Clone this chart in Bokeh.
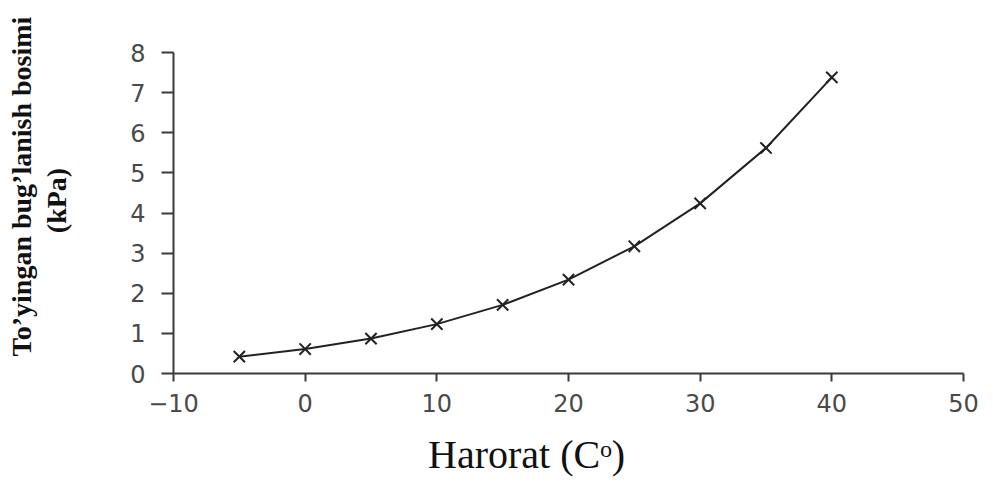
import math
from bokeh.plotting import figure
from bokeh.layouts import row, column
from bokeh.models import Range1d, FixedTicker
from bokeh.core.properties import value
from bokeh.embed import file_html
from bokeh.resources import INLINE

temperature = [-5, 0, 5, 10, 15, 20, 25, 30, 35, 40]
pressure = [0.42, 0.61, 0.87, 1.23, 1.71, 2.34, 3.17, 4.24, 5.62, 7.38]
x_ticks = [-10, 0, 10, 20, 30, 40, 50]
y_ticks = [0, 1, 2, 3, 4, 5, 6, 7, 8]
x_title = "Harorat (Cᵒ)"
y_title_1 = "To’yingan bug’lanish bosimi"
y_title_2 = "(kPa)"


def blank(width, height):
    f = figure(width=width, height=height, output_backend="svg", toolbar_location=None,
               x_range=Range1d(0, width), y_range=Range1d(0, height),
               min_border=0, min_border_left=0, min_border_right=0,
               min_border_top=0, min_border_bottom=0)
    f.frame_align = False
    f.axis.visible = False
    f.grid.visible = False
    f.outline_line_color = None
    f.background_fill_color = "white"
    f.border_fill_color = "white"
    return f


MAIN_H = 425

# left strip with the y titles
left = blank(100, MAIN_H)
left.text(x=[21], y=[MAIN_H - 186], text=[y_title_1], angle=math.pi / 2,
          text_font=value("Liberation Serif"), text_font_size="28px",
          text_font_style="bold", text_color="#111111",
          text_align="center", text_baseline="middle")
left.text(x=[56], y=[MAIN_H - 200], text=[y_title_2], angle=math.pi / 2,
          text_font=value("Liberation Serif"), text_font_size="28px",
          text_font_style="bold", text_color="#111111",
          text_align="center", text_baseline="middle")

# main chart
p = figure(width=890, height=MAIN_H, output_backend="svg", toolbar_location=None,
           x_range=Range1d(-10, 50), y_range=Range1d(0, 8),
           min_border_left=73, min_border_right=27, min_border_top=52, min_border_bottom=52)
p.frame_align = False
p.outline_line_color = None
p.grid.visible = False
p.background_fill_color = "white"
p.border_fill_color = "white"

axis_color = "#3a3a3a"
for ax in (p.xaxis[0], p.yaxis[0]):
    ax.axis_line_color = axis_color
    ax.axis_line_width = 2
    ax.major_tick_line_color = axis_color
    ax.major_tick_line_width = 2
    ax.major_tick_in = 0
    ax.minor_tick_line_color = None
    ax.major_label_text_font = "DejaVu Sans"
    ax.major_label_text_font_size = "24px"
    ax.major_label_text_color = "#4a4a4a"

p.xaxis[0].ticker = FixedTicker(ticks=x_ticks)
p.yaxis[0].ticker = FixedTicker(ticks=y_ticks)
p.xaxis[0].major_tick_out = 8
p.yaxis[0].major_tick_out = 12
p.xaxis[0].major_label_standoff = 12
p.yaxis[0].major_label_standoff = 16
p.xaxis[0].major_label_overrides = {t: str(t).replace("-", "\u2212") for t in x_ticks}

p.line(temperature, pressure, line_color="#222222", line_width=2)
p.scatter(temperature, pressure, marker="x", size=16, line_color="#222222", line_width=2)

# bottom strip with the x title
BOT_H = 57
bottom = blank(990, BOT_H)
bottom.text(x=[526], y=[BOT_H - 29], text=[x_title],
            text_font=value("Liberation Serif"), text_font_size="40px",
            text_color="#111111", text_align="center", text_baseline="middle")

layout = column(row(left, p, spacing=0), bottom, spacing=0)

open("out.html", "w").write(file_html(layout, INLINE))
